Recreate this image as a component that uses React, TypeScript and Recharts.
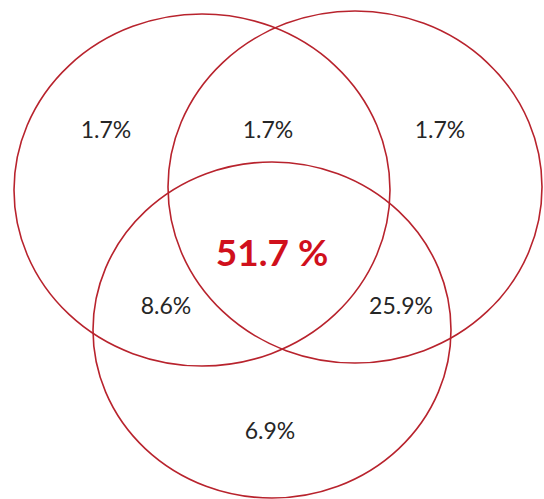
import { ScatterChart, Scatter, XAxis, YAxis } from 'recharts'

const W = 544
const H = 499

// three sets: centre and radii in chart units (x: 0..544, y: 0..499 top-down)
const setNames = ['A', 'B', 'C']
const setCx = [202, 355, 272]
const setCy = [190, 187, 330]
const setRx = [188, 187, 179]
const setRy = [176, 176, 168]

// share of each region
const regionLabels = ['1.7%', '1.7%', '1.7%', '51.7 %', '8.6%', '25.9%', '6.9%']
const regionX = [106, 268, 440, 272, 166, 401, 270]
const regionY = [129, 129, 129, 251, 305, 305, 430]
const regionMain = [false, false, false, true, false, false, false]

const RED = '#b8232d'

const circles = setNames.map((n, i) => ({ name: n, x: setCx[i], y: setCy[i], rx: setRx[i], ry: setRy[i] }))
const labels = regionLabels.map((t, i) => ({ text: t, x: regionX[i], y: regionY[i], main: regionMain[i] }))

// domain is mapped 1:1 onto the plot area
const kx = W / W
const ky = H / H

function EllipseShape(props: any) {
  const { cx, cy, payload } = props
  return <ellipse cx={cx} cy={cy} rx={payload.rx * kx} ry={payload.ry * ky} fill="none" stroke={RED} strokeWidth={1.6} />
}

function LabelShape(props: any) {
  const { cx, cy, payload } = props
  return (
    <text
      x={cx}
      y={cy}
      textAnchor="middle"
      dominantBaseline="central"
      fontFamily="Lato, 'Open Sans', sans-serif"
      fontSize={payload.main ? 37 : 23}
      fontWeight={payload.main ? 700 : 400}
      fill={payload.main ? '#d0101c' : '#262626'}
    >
      {payload.text}
    </text>
  )
}

export default function App() {
  return (
    <div style={{ position: 'absolute', left: 0, top: 0, width: W, height: H, background: 'white' }}>
      <ScatterChart width={W} height={H} margin={{ top: 0, right: 0, bottom: 0, left: 0 }}>
        <XAxis type="number" dataKey="x" domain={[0, W]} hide />
        <YAxis type="number" dataKey="y" domain={[0, H]} reversed hide />
        <Scatter data={circles} shape={EllipseShape} isAnimationActive={false} />
        <Scatter data={labels} shape={LabelShape} isAnimationActive={false} />
      </ScatterChart>
    </div>
  )
}
